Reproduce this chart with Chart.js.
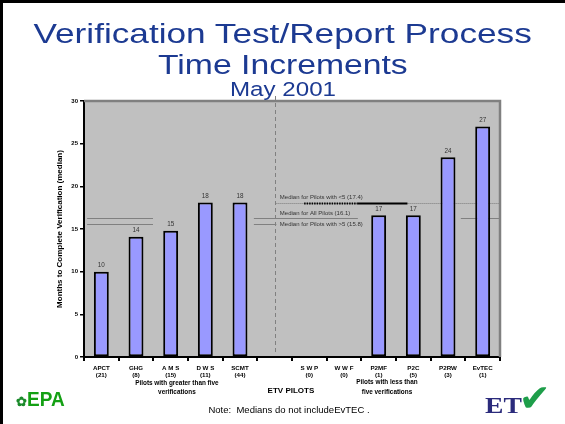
<!DOCTYPE html>
<html>
<head>
<meta charset="utf-8">
<script src="https://cdn.jsdelivr.net/npm/chart.js@4"></script>
<style>
  html, body { margin: 0; padding: 0; background: #fff; }
  #slide { position: relative; width: 565px; height: 424px; overflow: hidden; font-family: "Liberation Sans", Arial, sans-serif; }
  #frame { position: absolute; left: 0; top: 0; width: 565px; height: 424px; box-sizing: border-box; border-left: 3px solid #000; border-top: 3px solid #000; }
  #myChart { position: absolute; left: 0; top: 0; }
  .title { position: absolute; left: 0; width: 566px; text-align: center; color: #1c3a92; white-space: nowrap; }
  .title span { display: inline-block; transform-origin: center; }
  #note { position: absolute; left: 0; width: 578px; top: 405px; line-height: 9.5px; font-size: 9.5px; text-align: center; white-space: pre; color: #000; }
  #epa { position: absolute; left: 16px; top: 388px; color: #14a014; font-weight: bold; white-space: nowrap; }
  #etv { position: absolute; left: 485px; top: 378px; white-space: nowrap; }
</style>
</head>
<body>
<div id="slide">
  <canvas id="myChart" width="565" height="424"></canvas>
  <div class="title" style="top:19.7px;font-size:27.5px;line-height:27.5px;"><span id="t1">Verification Test/Report Process</span></div>
  <div class="title" style="top:50.7px;font-size:27.5px;line-height:27.5px;"><span id="t2">Time Increments</span></div>
  <div class="title" style="top:78.6px;font-size:20.5px;line-height:20.5px;"><span id="t3">May 2001</span></div>
  <div id="note">Note:  Medians do not includeEvTEC .</div>
  <div id="epa"><span style="font-size:13px;color:#1a8a2a;">✿</span><span style="display:inline-block;font-size:20px;transform:scaleX(0.95);transform-origin:left;">EPA</span></div>
  <div id="etv"><span style="display:inline-block;font-family:'Liberation Serif',serif;font-weight:bold;font-size:23px;color:#2b2b7c;transform:scaleX(1.2);transform-origin:left;">ET</span><span style="font-family:'DejaVu Sans';font-size:38px;color:#1e9e4a;position:relative;top:-2px;left:3px;">✔</span></div>
  <div id="frame"></div>
</div>
<script>
// pilots along the bottom axis (blank slot holds the dashed divider)
const pilotCodes = ['APCT', 'GHG', 'A M S', 'D W S', 'SCMT', '', 'S W P', 'W W F', 'P2MF', 'P2C', 'P2RW', 'EvTEC'];
const pilotCounts = ['(21)', '(8)', '(15)', '(11)', '(44)', '', '(0)', '(0)', '(1)', '(5)', '(3)', '(1)'];
// months to complete verification (median)
const months = [10, 14.1, 14.8, 18.1, 18.1, null, null, null, 16.6, 16.6, 23.4, 27];
const monthLabels = ['10', '14', '15', '18', '18', '', '', '', '17', '17', '24', '27'];
// median reference lines
const medianValues = [18.1, 16.3, 15.6];
const medianTexts = ['Median for Pilots with <5 (17.4)', 'Median for All Pilots (16.1)', 'Median for Pilots with >5 (15.8)'];
const yMax = 30;
const yStep = 5;

// stretch the title lines like the slide font
const titleWidths = { t1: 498, t2: 250, t3: 106 };
Object.keys(titleWidths).forEach(function (id) {
    const el = document.getElementById(id);
    el.style.transform = 'scaleX(' + (titleWidths[id] / el.offsetWidth) + ')';
});

const slideDecor = {
    id: 'slideDecor',
    beforeDraw(chart) {
        const { ctx, chartArea: a } = chart;
        ctx.save();
        ctx.fillStyle = '#c0c0c0';
        ctx.fillRect(a.left, a.top, a.right - a.left, a.bottom - a.top);
        ctx.restore();
    },
    beforeDatasetsDraw(chart) {
        const { ctx, chartArea: a, scales } = chart;
        const x = scales.x, y = scales.y;
        const step = x.getPixelForValue(1) - x.getPixelForValue(0);
        const xAt = (u) => x.getPixelForValue(0) + u * step;
        const seg = (u0, u1, v, color, width, dash) => {
            const py = Math.round(y.getPixelForValue(v)) + 0.5;
            ctx.beginPath();
            ctx.strokeStyle = color;
            ctx.lineWidth = width;
            ctx.setLineDash(dash);
            ctx.moveTo(xAt(u0), py);
            ctx.lineTo(xAt(u1), py);
            ctx.stroke();
        };
        ctx.save();
        // dashed divider between the two pilot groups
        const dx = Math.round(x.getPixelForValue(5)) + 0.5;
        ctx.beginPath();
        ctx.strokeStyle = '#808080';
        ctx.lineWidth = 1;
        ctx.setLineDash([4, 3]);
        ctx.moveTo(dx, a.top - 5);
        ctx.lineTo(dx, a.bottom - 2);
        ctx.stroke();

        // median for pilots with <5
        seg(5.05, 11.5, medianValues[0], '#7a7a7a', 1, [1, 1]);
        seg(5.85, 7.4, medianValues[0], '#000', 2, [1.5, 1]);
        seg(7.4, 8.83, medianValues[0], '#000', 2, []);
        // median for all pilots
        [[-0.41, 1.49], [4.4, 7.4], [10.37, 11.5]].forEach(function (s) {
            seg(s[0], s[1], medianValues[1], '#808080', 1, []);
        });
        // median for pilots with >5
        [[-0.41, 1.49], [4.4, 5.05]].forEach(function (s) {
            seg(s[0], s[1], medianValues[2], '#808080', 1, []);
        });
        ctx.restore();
    },
    afterDatasetsDraw(chart) {
        const { ctx, chartArea: a, scales } = chart;
        const x = scales.x, y = scales.y;
        const step = x.getPixelForValue(1) - x.getPixelForValue(0);
        const xAt = (u) => x.getPixelForValue(0) + u * step;
        ctx.save();
        // top and right frame of the plot
        ctx.strokeStyle = '#808080';
        ctx.lineWidth = 2.5;
        ctx.beginPath();
        ctx.moveTo(a.left, a.top);
        ctx.lineTo(a.right, a.top);
        ctx.lineTo(a.right, a.bottom);
        ctx.stroke();

        // value labels over the bars
        ctx.fillStyle = '#333';
        ctx.font = '6.3px "Liberation Sans", Arial, sans-serif';
        ctx.textAlign = 'center';
        ctx.textBaseline = 'middle';
        const meta = chart.getDatasetMeta(0);
        meta.data.forEach(function (bar, i) {
            if (months[i] == null) return;
            ctx.fillText(monthLabels[i], bar.x, bar.y - 6);
        });

        // median captions
        ctx.font = '6px "Liberation Sans", Arial, sans-serif';
        ctx.textAlign = 'left';
        ctx.fillText(medianTexts[0], xAt(5.15), y.getPixelForValue(medianValues[0]) - 5.5);
        ctx.fillText(medianTexts[1], xAt(5.15), y.getPixelForValue(medianValues[1]) - 4.5);
        ctx.fillText(medianTexts[2], xAt(5.15), y.getPixelForValue(medianValues[2]));
        ctx.restore();
    },
    afterDraw(chart) {
        const { ctx, chartArea: a, scales } = chart;
        const x = scales.x;
        const step = x.getPixelForValue(1) - x.getPixelForValue(0);
        const xAt = (u) => x.getPixelForValue(0) + u * step;
        ctx.save();
        ctx.fillStyle = '#000';
        ctx.textAlign = 'center';
        ctx.textBaseline = 'middle';
        ctx.font = 'bold 6.4px "Liberation Sans", Arial, sans-serif';
        ctx.fillText('Pilots with greater than five', xAt(2.18), a.bottom + 26);
        ctx.fillText('verifications', xAt(2.18), a.bottom + 35.5);
        ctx.fillText('Pilots with less than', xAt(8.24), a.bottom + 25);
        ctx.fillText('five verifications', xAt(8.24), a.bottom + 35);
        ctx.font = 'bold 8px "Liberation Sans", Arial, sans-serif';
        ctx.fillText('ETV PILOTS', xAt(5.47), a.bottom + 34);
        ctx.restore();
    }
};

const ctx = document.getElementById('myChart').getContext('2d');
const myChart = new Chart(ctx, {
    type: 'bar',
    data: {
        labels: pilotCodes.map((c, i) => c ? [c, pilotCounts[i]] : ''),
        datasets: [{
            label: 'Months',
            data: months,
            backgroundColor: '#9999ff',
            borderColor: '#000',
            borderWidth: 2,
            borderSkipped: false,
            categoryPercentage: 1,
            barPercentage: 0.43
        }]
    },
    options: {
        responsive: false,
        animation: false,
        devicePixelRatio: 1,
        layout: { padding: { left: 55, top: 101, right: 65, bottom: 0 } },
        plugins: {
            legend: { display: false },
            tooltip: { enabled: false }
        },
        scales: {
            x: {
                offset: true,
                afterFit: (s) => { s.height = 67; },
                grid: { offset: true, drawOnChartArea: false, drawTicks: true, tickLength: 4, color: '#000', lineWidth: 2 },
                border: { display: true, color: '#000', width: 2 },
                ticks: {
                    color: '#000',
                    padding: 3,
                    maxRotation: 0,
                    autoSkip: false,
                    font: { family: '"Liberation Sans", Arial, sans-serif', size: 6.2, weight: 'bold', lineHeight: 1.25 }
                }
            },
            y: {
                min: 0,
                max: yMax,
                afterFit: (s) => { s.width = 29; },
                grid: { drawOnChartArea: false, drawTicks: true, tickLength: 4, color: '#000', lineWidth: 1.5 },
                border: { display: true, color: '#000', width: 2 },
                ticks: {
                    stepSize: yStep,
                    color: '#000',
                    padding: 2,
                    font: { family: '"Liberation Sans", Arial, sans-serif', size: 6, weight: 'bold' }
                },
                title: {
                    display: true,
                    text: 'Months to Complete Verification (median)',
                    color: '#000',
                    padding: { top: 0, bottom: 0 },
                    font: { family: '"Liberation Sans", Arial, sans-serif', size: 8, weight: 'bold' }
                }
            }
        }
    },
    plugins: [slideDecor]
});
</script>
</body>
</html>
